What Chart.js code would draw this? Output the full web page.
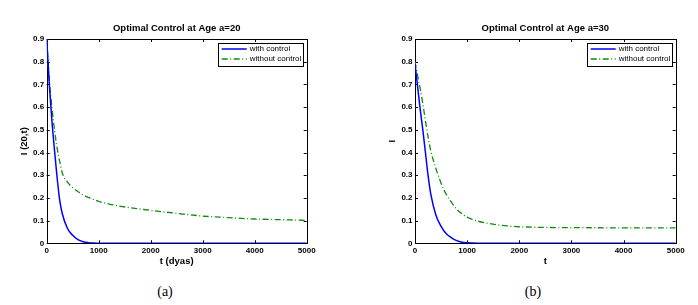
<!DOCTYPE html>
<html>
<head>
<meta charset="utf-8">
<script src="https://cdn.jsdelivr.net/npm/chart.js@4/dist/chart.umd.min.js"></script>
<style>
  html, body { margin: 0; padding: 0; background: #fff; }
  body { width: 698px; height: 305px; position: relative; overflow: hidden; }
  .box { position: absolute; top: 0; height: 275px; }
  #boxA { left: 0; width: 349px; }
  #boxB { left: 368px; width: 330px; }
  .cap { position: absolute; top: 283px; line-height: 18px; font-family: "Liberation Serif", serif; font-size: 14px; color: #000; transform: translateX(-50%); }
</style>
</head>
<body>
<div class="box" id="boxA"><canvas id="chartA"></canvas></div>
<div class="box" id="boxB"><canvas id="chartB"></canvas></div>
<div class="cap" style="left:165px">(a)</div>
<div class="cap" style="left:533px">(b)</div>
<script>
// ── Data ─────────────────────────────────────────────────
const tDays = [0, 50, 100, 150, 200, 250, 300, 400, 500, 600, 700, 800, 900, 1000,
               1200, 1400, 1600, 1800, 2000, 2500, 3000, 3500, 4000, 4500, 5000];
// age a=20
const withCtrl20    = [0.9, 0.7, 0.54, 0.41, 0.29, 0.19, 0.13, 0.065, 0.035, 0.016, 0.007, 0.003, 0.001, 0,
                       0, 0, 0, 0, 0, 0, 0, 0, 0, 0, 0];
const withoutCtrl20 = [0.9, 0.72, 0.6, 0.5, 0.42, 0.36, 0.31, 0.27, 0.245, 0.228, 0.213, 0.202, 0.193, 0.185,
                       0.173, 0.164, 0.157, 0.151, 0.145, 0.132, 0.12, 0.113, 0.107, 0.104, 0.101];
// age a=30
const withCtrl30    = [0.79, 0.69, 0.59, 0.5, 0.4, 0.3, 0.22, 0.125, 0.075, 0.042, 0.024, 0.012, 0.005, 0.002,
                       0, 0, 0, 0, 0, 0, 0, 0, 0, 0, 0];
const withoutCtrl30 = [0.8, 0.74, 0.68, 0.615, 0.54, 0.47, 0.41, 0.33, 0.265, 0.215, 0.18, 0.15, 0.13, 0.115,
                       0.098, 0.088, 0.081, 0.076, 0.073, 0.07, 0.069, 0.0685, 0.068, 0.068, 0.068];
const seriesNames = ['with control', 'without control'];

const BOLD = 'bold';
const FAM = 'Liberation Sans, Arial, sans-serif';

// ── MATLAB-ish frame with inward ticks ───────────────────
const frame = {
  id: 'frame',
  beforeDatasetsDraw(chart) {
    const { ctx, chartArea: a, scales: { x, y } } = chart;
    ctx.save();
    ctx.strokeStyle = '#000'; ctx.lineWidth = 1;
    ctx.strokeRect(Math.round(a.left) + 0.5, Math.round(a.top) + 0.5, Math.round(a.right - a.left), Math.round(a.bottom - a.top));
    const L = 3;
    ctx.beginPath();
    x.ticks.forEach(t => {
      const px = Math.round(x.getPixelForValue(t.value)) + 0.5;
      ctx.moveTo(px, a.bottom); ctx.lineTo(px, a.bottom - L);
      ctx.moveTo(px, a.top); ctx.lineTo(px, a.top + L);
    });
    y.ticks.forEach(t => {
      const py = Math.round(y.getPixelForValue(t.value)) + 0.5;
      ctx.moveTo(a.left, py); ctx.lineTo(a.left + L, py);
      ctx.moveTo(a.right, py); ctx.lineTo(a.right - L, py);
    });
    ctx.stroke();
    ctx.restore();
  }
};

// ── boxed legend in the top-right corner ─────────────────
const boxLegend = {
  id: 'boxLegend',
  afterDraw(chart) {
    const { ctx, chartArea: a } = chart;
    const w = 84.5, h = 22.5;
    const bx = a.right - 4 - w, by = a.top + 3.5;
    ctx.save();
    ctx.fillStyle = '#fff'; ctx.fillRect(bx, by, w, h);
    ctx.strokeStyle = '#000'; ctx.lineWidth = 1;
    ctx.strokeRect(Math.round(bx) + 0.5, Math.round(by) + 0.5, Math.round(w), Math.round(h));
    ctx.font = '8px ' + FAM; ctx.textBaseline = 'middle'; ctx.fillStyle = '#000';
    chart.data.datasets.forEach((ds, i) => {
      const ly = by + 6.5 + i * 10;
      ctx.beginPath();
      ctx.strokeStyle = ds.borderColor; ctx.lineWidth = ds.borderWidth;
      ctx.setLineDash(ds.borderDash || []);
      ctx.moveTo(bx + 3.5, ly); ctx.lineTo(bx + 28.5, ly); ctx.stroke();
      ctx.setLineDash([]);
      ctx.fillText(ds.label, bx + 31.5, ly);
    });
    ctx.restore();
  }
};

function mkPlot(id, title, yLabel, xLabel, withC, withoutC, yAxisW, rightPad) {
  const pts = arr => tDays.map((t, i) => ({ x: t, y: arr[i] }));
  return new Chart(document.getElementById(id), {
    type: 'line',
    data: {
      datasets: [
        { label: seriesNames[0], data: pts(withC), borderColor: '#0000ff', borderWidth: 1.5, pointRadius: 0, cubicInterpolationMode: 'monotone', fill: false },
        { label: seriesNames[1], data: pts(withoutC), borderColor: '#118811', borderWidth: 1.3, borderDash: [6, 2.5, 1, 2.5], pointRadius: 0, cubicInterpolationMode: 'monotone', fill: false },
      ]
    },
    options: {
      responsive: true, maintainAspectRatio: false, animation: false,
      layout: { padding: { top: 0, left: 0, bottom: 0, right: rightPad } },
      plugins: {
        legend: { display: false },
        tooltip: { enabled: false },
        title: { display: true, text: title, fullSize: false, color: '#000', font: { family: FAM, size: 9.5, weight: BOLD }, padding: { top: 22.3, bottom: 5.3 } }
      },
      scales: {
        x: {
          type: 'linear', min: 0, max: 5000,
          afterFit: s => { s.height = 31.7; },
          ticks: { stepSize: 1000, color: '#000', padding: 2.5, maxRotation: 0, callback: v => String(v), font: { family: FAM, size: 8, weight: BOLD } },
          grid: { display: true, drawOnChartArea: false, drawTicks: false },
          border: { display: false },
          title: { display: true, text: xLabel, color: '#000', font: { family: FAM, size: 9.5, weight: BOLD }, padding: { top: 0, bottom: 7.8 } }
        },
        y: {
          type: 'linear', min: 0, max: 0.9,
          afterFit: s => { s.width = yAxisW; },
          ticks: { stepSize: 0.1, color: '#000', padding: 2.5, font: { family: FAM, size: 8, weight: BOLD } },
          grid: { display: true, drawOnChartArea: false, drawTicks: false },
          border: { display: false },
          title: { display: true, text: yLabel, color: '#000', font: { family: FAM, size: 9.5, weight: BOLD }, padding: { top: 18.8, bottom: 0 } }
        }
      }
    },
    plugins: [frame, boxLegend]
  });
}

mkPlot('chartA', 'Optimal Control at Age a=20', 'I (20,t)', 't (dyas)', withCtrl20, withoutCtrl20, 46.7, 349 - 306.7);
mkPlot('chartB', 'Optimal Control at Age a=30', 'I', 't', withCtrl30, withoutCtrl30, 47, 330 - 307.7);
</script>
</body>
</html>
